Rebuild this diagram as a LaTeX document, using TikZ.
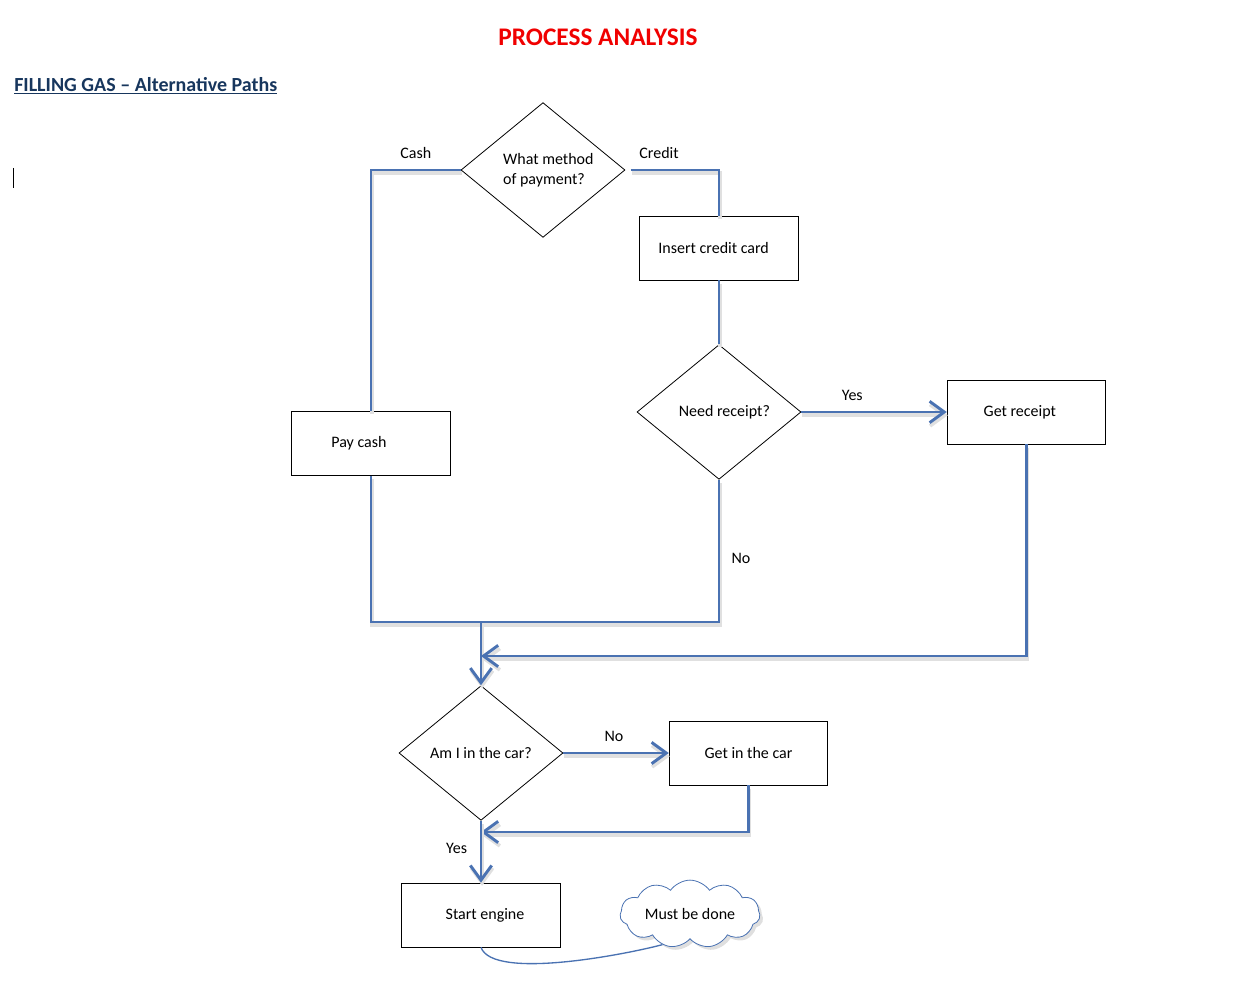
\documentclass[tikz,border=0pt]{standalone}
\usepackage{fontspec}
\setmainfont{Carlito}
\usetikzlibrary{arrows.meta,positioning,shapes.geometric,shapes.symbols,shadows}
\definecolor{flowblue}{HTML}{4A72B2}
\definecolor{headred}{HTML}{F00000}
\definecolor{navy}{HTML}{17365D}
\begin{document}
\begin{tikzpicture}[x=0.75pt,y=-0.75pt,
  every node/.style={font=\fontsize{12}{15}\selectfont},
  box/.style={draw,line width=0.6pt,minimum width=119pt,minimum height=48pt,inner sep=0pt},
  choice/.style={draw,diamond,line width=0.6pt,minimum width=123pt,minimum height=101pt,inner sep=0pt},
  lbl/.style={text=black},
  flow/.style={flowblue,line width=2.2pt,preaction={draw=black!12,line width=2.8pt,transform canvas={shift={(0.8pt,-2.4pt)}}}},
  arr/.style={flow,-{Straight Barb[length=11pt,width=16pt]}}]
  \useasboundingbox (0,0) rectangle (1239,988);
  \node[font=\bfseries\fontsize{19}{22}\selectfont,text=headred] (title) at (598,37) {PROCESS ANALYSIS};
  \node[font=\bfseries\fontsize{15}{18}\selectfont,text=navy,anchor=west,inner sep=0pt] (sub) at (14,86) {\underline{FILLING GAS \textendash{} Alternative Paths}};
  \draw[line width=0.5pt] (13,168) -- (13,188);
  \node[choice,align=left] (method) at (543,170) {\hspace*{8pt}What method\\\hspace*{8pt}of payment?};
  \node[box] (card) at (719,248) {Insert credit card\hspace*{8pt}};
  \node[choice] (receipt) at (719,412) {\hspace*{8pt}Need receipt?};
  \node[box] (getrec) at (1026.5,412) {Get receipt\hspace*{10pt}};
  \node[box] (pay) at (371,443.5) {Pay cash\hspace*{18pt}};
  \node[choice] (incar) at (481,753) {Am I in the car?};
  \node[box] (getin) at (748.5,753) {Get in the car};
  \node[box] (start) at (481,915) {\hspace*{6pt}Start engine};
  \node[cloud,cloud puffs=11,cloud puff arc=110,aspect=2.5,draw=flowblue,line width=0.6pt,fill=white,
    minimum width=105pt,minimum height=43pt,inner sep=0pt,drop shadow={opacity=0.25}] (note) at (690,914) {Must be done};
  \coordinate (join) at (481,622);
  \coordinate (back1) at (481,656);
  \coordinate (back2) at (481,832);
  \draw[flow] (method.west) -| node[lbl,above=4pt,pos=0.25] (lblcash) {Cash} (pay.north);
  \draw[flow,shorten <=4pt] (method.east) -| node[lbl,above=4pt,pos=0.18] (lblcredit) {Credit} (card.north);
  \draw[flow] (card) -- (receipt);
  \draw[arr] (receipt.east) -- node[lbl,above=4pt,pos=0.35] (lblyes1) {Yes} (getrec.west);
  \draw[flow] (pay.south) |- (join) -| (receipt.south);
  \node (lblno1) at (741,558) {No};
  \draw[arr] (join) -- (incar.north);
  \draw[arr] (getrec.south) |- (back1);
  \draw[arr] (incar.east) -- node[lbl,above=4pt,pos=0.48] (lblno2) {No} (getin.west);
  \draw[arr] (getin.south) |- (back2);
  \draw[arr] (incar.south) -- node[lbl,left=6pt,pos=0.45] (lblyes2) {Yes} (start.north);
  \draw[flowblue,line width=1pt] (start.south) to[out=-70,in=195,looseness=0.5] (note.228);
\end{tikzpicture}
\end{document}
